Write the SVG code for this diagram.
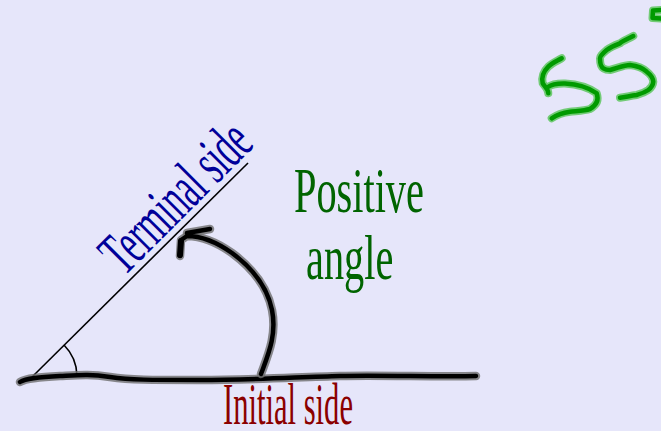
<svg xmlns="http://www.w3.org/2000/svg" width="661" height="431" viewBox="0 0 661 431">
<style>
.halo{fill:none;stroke:#6e6e6e;stroke-width:8.5;stroke-linecap:round;stroke-linejoin:round;opacity:0.8}
.ink{fill:none;stroke:#000;stroke-width:4.5;stroke-linecap:round;stroke-linejoin:round}
.ghalo{fill:none;stroke:#55c455;stroke-width:8;stroke-linecap:round;stroke-linejoin:round;opacity:0.8}
.gink{fill:none;stroke:#009a00;stroke-width:4.5;stroke-linecap:round;stroke-linejoin:round}
.thin{fill:none;stroke:#000;stroke-width:1.6}
.lbl{font-family:"Liberation Serif","Times New Roman",serif}
</style>
<rect width="661" height="431" fill="#e6e6fa"/>
<g id="connectors">
<line class="thin" x1="32" y1="377" x2="248" y2="163"/>
<path class="thin" d="M64,345 A45,45 0 0 1 77,376"/>
</g>
<g id="initial-side">
<path class="halo" d="M20,382 C26,378 40,377 60,376 S90,374 110,377 S150,380 200,380 S300,377 340,376 S440,377 476,376"/>
<path class="ink" d="M20,382 C26,378 40,377 60,376 S90,374 110,377 S150,380 200,380 S300,377 340,376 S440,377 476,376"/>
<text class="lbl" fill="#8b0000" font-size="60" transform="translate(223,424) scale(0.51,1)">Initial side</text>
</g>
<g id="terminal-side">
<text class="lbl" fill="#000099" font-size="62" transform="translate(124,277) rotate(-45) scale(0.55,1)">Terminal side</text>
</g>
<g id="arrow">
<path class="halo" d="M261,374 C268,355 277,335 272,310 C268,290 255,270 232,253 C215,241 200,236 187,236 L181,240 L180,256"/>
<path class="halo" d="M187,233 L210,229"/>
<path class="ink" d="M261,374 C268,355 277,335 272,310 C268,290 255,270 232,253 C215,241 200,236 187,236 L181,240 L180,256"/>
<path class="ink" d="M187,233 L210,229"/>
<path class="ink" style="stroke-width:6" d="M181,241 L180,255"/>
</g>
<g id="positive-angle">
<text class="lbl" fill="#006400" font-size="63" transform="translate(294,212) scale(0.64,1)">Positive</text>
<text class="lbl" fill="#006400" font-size="63" transform="translate(306,279) scale(0.64,1)">angle</text>
</g>
<g id="fifty-five">
<path class="ghalo" d="M561.7,58.3 C557,61 552,63 548.3,66.7 C544,71 541,76 542.7,83.3 C544,86 548,88 548.3,93.3 M548,87 C552,84 556,83.3 565,83.5 C575,84 588,87 596.7,93.3 C599,100 597,105 590,109 C584,111 575,111 570,111.7 C560,113 555,116 551.7,118.3"/>
<path class="gink" d="M561.7,58.3 C557,61 552,63 548.3,66.7 C544,71 541,76 542.7,83.3 C544,86 548,88 548.3,93.3 M548,87 C552,84 556,83.3 565,83.5 C575,84 588,87 596.7,93.3 C599,100 597,105 590,109 C584,111 575,111 570,111.7 C560,113 555,116 551.7,118.3"/>
<path class="ghalo" d="M633.3,36 C628,39 622,41 620,43.3 C613,46 608,49 606.7,50 C602,54 600,56 600,58.3 C600,63 601,67 603.3,68.3 C606,70 608,70 610,70 C618,68 624,65 630,65 C638,66 643,68 646.7,71.7 C651,75 653,78 653.3,81.7 C653,86 651,88 648.3,90 C644,93 640,94 636.7,95 C630,96 625,97 620,97.7"/>
<path class="gink" d="M633.3,36 C628,39 622,41 620,43.3 C613,46 608,49 606.7,50 C602,54 600,56 600,58.3 C600,63 601,67 603.3,68.3 C606,70 608,70 610,70 C618,68 624,65 630,65 C638,66 643,68 646.7,71.7 C651,75 653,78 653.3,81.7 C653,86 651,88 648.3,90 C644,93 640,94 636.7,95 C630,96 625,97 620,97.7"/>
<path class="ghalo" d="M662,10 L653,10.5 L652.5,18 L662,18.5"/>
<path class="gink" d="M662,10 L653,10.5 L652.5,18 L662,18.5"/>
</g>
</svg>
